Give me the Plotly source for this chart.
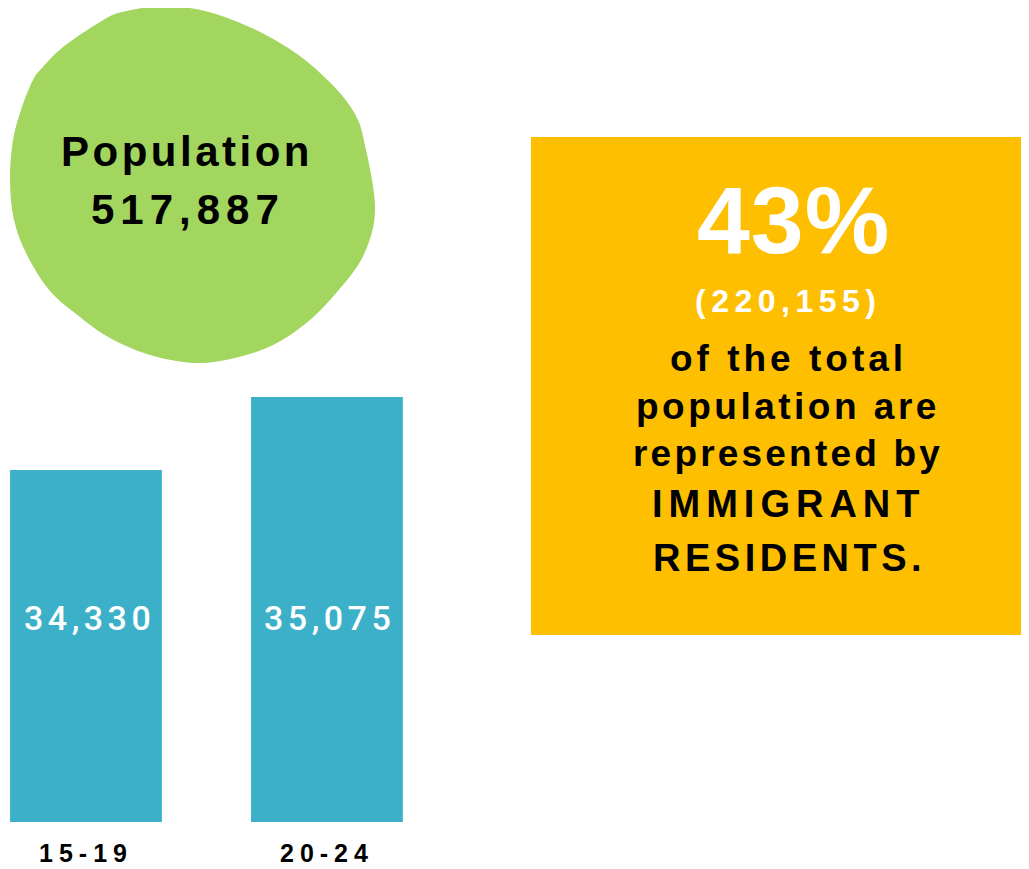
import plotly.graph_objects as go

# data
age_groups = ['15-19', '20-24']
pop_by_age = [34330, 35075]
total_pop = 517887
immigrant_pop = 220155
immigrant_share = 43

# page has an 8px body margin, so the figure is a bit smaller and shifted
OFF = 8
W, H = 1029 - OFF, 869 - OFF
FONT = 'Liberation Sans, Arial, sans-serif'

# outline of the green blob (pixels in the reference picture)
blob_pts = [(163, 6), (205, 11), (245, 25), (280, 43), (310, 64), (340, 93),
            (358, 120), (366, 150), (372, 180), (375, 207), (372, 232),
            (360, 262), (337, 292), (310, 320), (275, 344), (235, 358),
            (195, 363), (150, 355), (110, 338), (80, 317), (50, 291),
            (27, 255), (14, 220), (10, 180), (13, 140), (22, 107), (33, 80),
            (42, 68), (63, 47), (100, 22), (122, 12)]


def px(x, y):
    return (x - OFF) / W, 1 - (y - OFF) / H


def blob_path(pts):
    # closed catmull-rom -> cubic bezier
    n = len(pts)
    p = [px(*q) for q in pts]
    d = 'M %.5f,%.5f' % p[0]
    for i in range(n):
        p0, p1, p2, p3 = p[i - 1], p[i], p[(i + 1) % n], p[(i + 2) % n]
        c1 = (p1[0] + (p2[0] - p0[0]) / 6, p1[1] + (p2[1] - p0[1]) / 6)
        c2 = (p2[0] - (p3[0] - p1[0]) / 6, p2[1] - (p3[1] - p1[1]) / 6)
        d += ' C %.5f,%.5f %.5f,%.5f %.5f,%.5f' % (c1 + c2 + p2)
    return d + ' Z'


def spaced(txt, sp):
    return '<span style="letter-spacing:%spx">%s</span>' % (sp, txt)


fig = go.Figure()
fig.add_trace(go.Bar(x=age_groups, y=pop_by_age, marker_color='#3CB0C8',
                     marker_line_width=0, hoverinfo='skip'))

# bars: centres 241px apart, bottom at 822px, 0.098px per person above 30737
fig.update_layout(
    width=W, height=H, margin=dict(l=0, r=0, t=0, b=0),
    paper_bgcolor='white', plot_bgcolor='white', showlegend=False,
    bargap=0.37,
    xaxis=dict(domain=[0, 0.5], range=[-0.3237, 1.795], showgrid=False,
               zeroline=False, showline=False, ticks='', ticklabelstandoff=14,
               tickvals=age_groups,
               ticktext=[spaced('<b>%s</b>' % a, 6) for a in age_groups],
               tickfont=dict(family=FONT, size=25, color='black')),
    yaxis=dict(domain=[47 / H, 1], range=[30737, 39046], visible=False),
)

# green blob
fig.add_shape(type='path', xref='paper', yref='paper', path=blob_path(blob_pts),
              fillcolor='#A3D65E', line_width=0, layer='below')

# orange box
x0, y1 = px(531, 137)
x1, y0 = px(1040, 635)
fig.add_shape(type='rect', xref='paper', yref='paper', x0=x0, x1=x1, y0=y0, y1=y1,
              fillcolor='#FDBF00', line_width=0, layer='below')


def note(x, y, txt, size, color='black', sp=0, bold=True):
    t = '<b>%s</b>' % txt if bold else txt
    if sp:
        t = spaced(t, sp)
    xp, yp = px(x, y)
    fig.add_annotation(x=xp, y=yp, xref='paper', yref='paper', text=t,
                       showarrow=False, xanchor='center', yanchor='middle',
                       font=dict(family=FONT, size=size, color=color))


# blob text
note(187, 152, 'Population', 42, sp=3.5)
note(188, 210, f'{total_pop:,}', 42, sp=6)

# bar values
for a, v in zip(age_groups, pop_by_age):
    fig.add_annotation(x=a, y=px(0, 618)[1], xref='x', yref='paper',
                       text=spaced(f'{v:,}', 4.5), showarrow=False,
                       xanchor='center', yanchor='middle', xshift=3,
                       font=dict(family='Roboto, ' + FONT, size=34,
                                 weight=500, color='white'))

# box text
note(793, 220, f'{immigrant_share}%', 95, color='white', sp=1)
note(788, 301, f'({immigrant_pop:,})', 32, color='white', sp=5.5)
note(788, 358, 'of the total', 37, sp=4)
note(788, 406, 'population are', 37, sp=3.5)
note(788, 453, 'represented by', 37, sp=3.2)
note(789, 504, 'IMMIGRANT', 38, sp=6)
note(789, 558, 'RESIDENTS.', 38, sp=4.5)

fig.write_html('out.html')
